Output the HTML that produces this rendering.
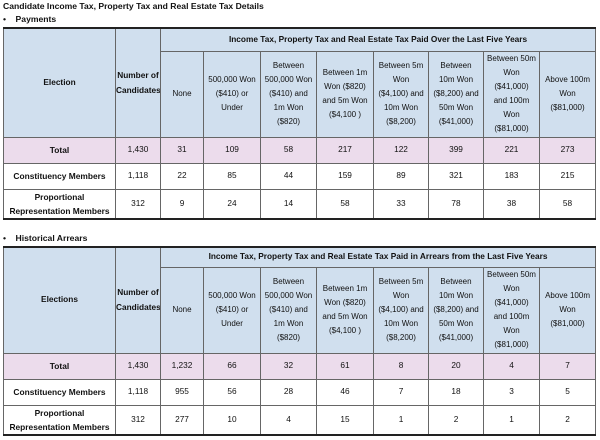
<!DOCTYPE html>
<html><head><meta charset="utf-8"><style>
body{margin:0;width:600px;height:440px;background:#fff;font-family:"Liberation Sans",sans-serif;color:#111;position:relative;overflow:hidden}
.t{position:absolute;font-weight:bold;font-size:8.6px;white-space:nowrap}
table{position:absolute;left:3px;border-collapse:collapse;table-layout:fixed;width:592px;font-size:8.3px}
td{border:1px solid #666;text-align:center;vertical-align:middle;padding:0;line-height:13.7px;overflow:hidden}
tr.top td{border-top:2px solid #222}
tr.last td{border-bottom:2px solid #222}
.h td{background:#d0dfee}
.h2 td{padding:0 3px;font-size:8px;line-height:14px}
.p td{background:#ecdcec}
.b{font-weight:bold}
.lbl{font-weight:bold;font-size:8.4px;line-height:14px}
</style></head><body>
<div class="t" style="left:3px;top:1px">Candidate Income Tax, Property Tax and Real Estate Tax Details</div>
<div class="t" style="left:3px;top:14px">•&nbsp;&nbsp;&nbsp; Payments</div>
<table style="top:27px">
<colgroup><col style="width:112px"><col style="width:45px"><col style="width:43px"><col style="width:57px"><col style="width:56px"><col style="width:57px"><col style="width:55px"><col style="width:55px"><col style="width:56px"><col style="width:56px"></colgroup>
<tr class="top h" style="height:23px"><td rowspan="2" class="b">Election</td><td rowspan="2" class="b" style="line-height:15px">Number of Candidates</td><td colspan="8" class="b">Income Tax, Property Tax and Real Estate Tax Paid Over the Last Five Years</td></tr>
<tr class="h h2" style="height:86px"><td>None</td><td>500,000 Won ($410) or Under</td><td>Between 500,000 Won ($410) and 1m Won ($820)</td><td>Between 1m Won ($820) and 5m Won ($4,100 )</td><td>Between 5m Won ($4,100) and 10m Won ($8,200)</td><td>Between 10m Won ($8,200) and 50m Won ($41,000)</td><td>Between 50m Won ($41,000) and 100m Won ($81,000)</td><td>Above 100m Won ($81,000)</td></tr>
<tr class="p" style="height:26px"><td class="lbl">Total</td><td>1,430</td><td>31</td><td>109</td><td>58</td><td>217</td><td>122</td><td>399</td><td>221</td><td>273</td></tr>
<tr style="height:26px"><td class="lbl">Constituency Members</td><td>1,118</td><td>22</td><td>85</td><td>44</td><td>159</td><td>89</td><td>321</td><td>183</td><td>215</td></tr>
<tr class="last" style="height:29px"><td class="lbl">Proportional Representation Members</td><td>312</td><td>9</td><td>24</td><td>14</td><td>58</td><td>33</td><td>78</td><td>38</td><td>58</td></tr>
</table>
<div class="t" style="left:3px;top:233px">•&nbsp;&nbsp;&nbsp; Historical Arrears</div>
<table style="top:246px">
<colgroup><col style="width:112px"><col style="width:45px"><col style="width:43px"><col style="width:57px"><col style="width:56px"><col style="width:57px"><col style="width:55px"><col style="width:55px"><col style="width:56px"><col style="width:56px"></colgroup>
<tr class="top h" style="height:20px"><td rowspan="2" class="b">Elections</td><td rowspan="2" class="b" style="line-height:15px">Number of Candidates</td><td colspan="8" class="b">Income Tax, Property Tax and Real Estate Tax Paid in Arrears from the Last Five Years</td></tr>
<tr class="h h2" style="height:86px"><td>None</td><td>500,000 Won ($410) or Under</td><td>Between 500,000 Won ($410) and 1m Won ($820)</td><td>Between 1m Won ($820) and 5m Won ($4,100 )</td><td>Between 5m Won ($4,100) and 10m Won ($8,200)</td><td>Between 10m Won ($8,200) and 50m Won ($41,000)</td><td>Between 50m Won ($41,000) and 100m Won ($81,000)</td><td>Above 100m Won ($81,000)</td></tr>
<tr class="p" style="height:26px"><td class="lbl">Total</td><td>1,430</td><td>1,232</td><td>66</td><td>32</td><td>61</td><td>8</td><td>20</td><td>4</td><td>7</td></tr>
<tr style="height:26px"><td class="lbl">Constituency Members</td><td>1,118</td><td>955</td><td>56</td><td>28</td><td>46</td><td>7</td><td>18</td><td>3</td><td>5</td></tr>
<tr class="last" style="height:29px"><td class="lbl">Proportional Representation Members</td><td>312</td><td>277</td><td>10</td><td>4</td><td>15</td><td>1</td><td>2</td><td>1</td><td>2</td></tr>
</table>
</body></html>
